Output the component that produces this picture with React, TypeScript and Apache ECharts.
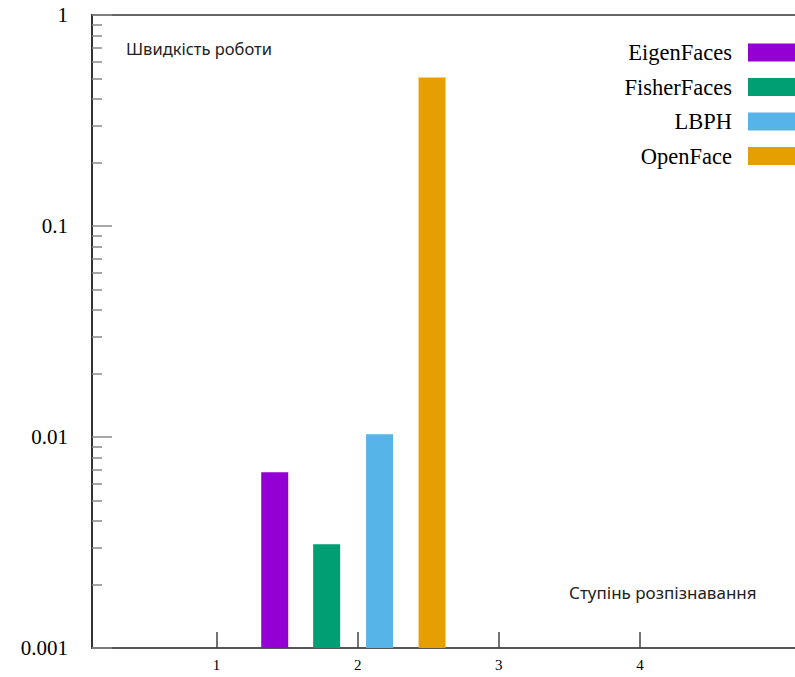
import React, { useEffect, useRef } from "react";
import * as echarts from "echarts";

const seriesNames = ["EigenFaces", "FisherFaces", "LBPH", "OpenFace"];
const seriesColors = ["#9400D3", "#009E73", "#56B4E9", "#E69F00"];
const barPositions = [1.412, 1.78, 2.155, 2.527];
const barValues = [0.0068, 0.0031, 0.0103, 0.505];
const xTickValues = [1, 2, 3, 4];
const yTickValues = [0.001, 0.01, 0.1, 1];
const yTickLabels = ["0.001", "0.01", "0.1", "1"];
const yMinorTicks = [
  0.002, 0.003, 0.004, 0.005, 0.006, 0.007, 0.008, 0.009,
  0.02, 0.03, 0.04, 0.05, 0.06, 0.07, 0.08, 0.09,
  0.2, 0.3, 0.4, 0.5, 0.6, 0.7, 0.8, 0.9,
];
const yTitle = "Швидкість роботи";
const xTitle = "Ступінь розпізнавання";

export default function App() {
  const ref = useRef<HTMLDivElement>(null);
  useEffect(() => {
    if (!ref.current) return;
    const chart = echarts.init(ref.current, null, { renderer: "svg" });
    const serif = "'Liberation Serif', 'DejaVu Serif', serif";
    const option: any = {
      animation: false,
      backgroundColor: "#ffffff",
      grid: {
        left: 92,
        top: 15,
        right: 15,
        bottom: 29,
        show: true,
        borderColor: "#666",
        borderWidth: 2,
        backgroundColor: "transparent",
      },
      legend: {
        orient: "vertical",
        align: "right",
        right: 12,
        top: 41,
        padding: 0,
        itemWidth: 60,
        itemHeight: 18,
        itemGap: 11.5,
        icon: "rect",
        textStyle: {
          fontFamily: serif,
          fontSize: 22.5,
          color: "#000",
          lineHeight: 18,
          padding: [0, 11, 0, 0],
        },
        data: seriesNames,
      },
      xAxis: {
        type: "value",
        min: 0.117,
        max: 5.17,
        splitLine: { show: false },
        axisLine: { show: true, lineStyle: { color: "#555", width: 2 } },
        axisTick: {
          show: true,
          inside: true,
          length: 16,
          customValues: xTickValues,
          lineStyle: { color: "#444", width: 1.5 },
        },
        axisLabel: {
          customValues: xTickValues,
          fontFamily: serif,
          fontSize: 15,
          color: "#000",
          margin: 9,
        },
      },
      yAxis: [
        {
          type: "log",
          logBase: 10,
          min: 0.001,
          max: 1,
          startValue: 0.001,
          position: "left",
          splitLine: { show: false },
          axisLine: { show: true, lineStyle: { color: "#333", width: 2 } },
          axisTick: {
            show: true,
            inside: true,
            length: 20,
            lineStyle: { color: "#888", width: 1.5 },
          },
          axisLabel: {
            fontFamily: serif,
            fontSize: 21,
            color: "#000",
            margin: 24,
            formatter: (v: number) => {
              let best = 0;
              yTickValues.forEach((t, i) => {
                if (Math.abs(Math.log10(t) - Math.log10(v)) < Math.abs(Math.log10(yTickValues[best]) - Math.log10(v))) best = i;
              });
              return yTickLabels[best];
            },
          },
        },
        {
          type: "log",
          logBase: 10,
          min: 0.001,
          max: 1,
          position: "left",
          splitLine: { show: false },
          axisLine: { show: false },
          axisLabel: { show: false },
          axisTick: {
            show: true,
            inside: true,
            length: 10,
            customValues: yMinorTicks,
            lineStyle: { color: "#888", width: 1.5 },
          },
        },
      ],
      graphic: [
        {
          type: "text",
          left: 126,
          top: 40,
          style: {
            text: yTitle,
            fontFamily: "'Noto Sans', sans-serif",
            fontSize: 16.5,
            fill: "#222",
          },
        },
        {
          type: "text",
          left: 569,
          top: 584,
          style: {
            text: xTitle,
            fontFamily: "'Noto Sans', sans-serif",
            fontSize: 17,
            fill: "#222",
          },
        },
      ],
      series: seriesNames.map((name, i) => ({
        name,
        type: "bar",
        xAxisIndex: 0,
        yAxisIndex: 0,
        barWidth: 27,
        barGap: "-100%",
        itemStyle: { color: seriesColors[i] },
        data: [[barPositions[i], barValues[i]]],
      })),
    };
    chart.setOption(option);
    return () => chart.dispose();
  }, []);
  return (
    <div
      style={{
        position: "absolute",
        left: 0,
        top: 0,
        width: 795,
        height: 677,
        overflow: "hidden",
      }}
    >
      <div ref={ref} style={{ width: 820, height: 677 }} />
    </div>
  );
}
